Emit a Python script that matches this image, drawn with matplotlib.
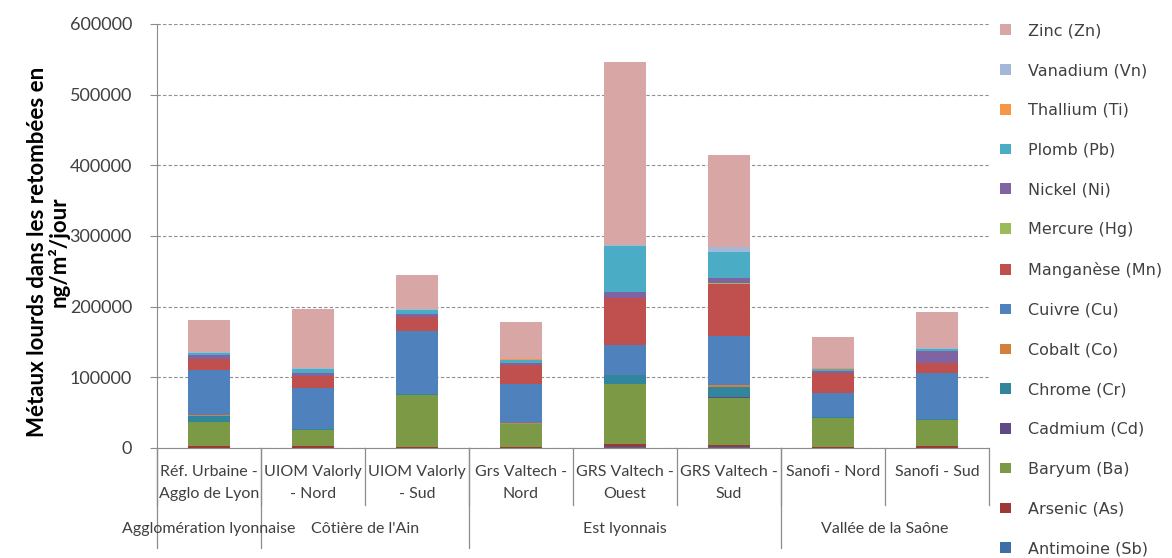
import matplotlib
matplotlib.use("Agg")
import matplotlib.pyplot as plt
from matplotlib.patches import Patch
import numpy as np

# Sites and their geographic groups
sites = [
    "Réf. Urbaine -\nAgglo de Lyon",
    "UIOM Valorly\n- Nord",
    "UIOM Valorly\n- Sud",
    "Grs Valtech -\nNord",
    "GRS Valtech -\nOuest",
    "GRS Valtech -\nSud",
    "Sanofi - Nord",
    "Sanofi - Sud",
]
groups = ["Agglomération lyonnaise", "Côtière de l'Ain", "Est lyonnais", "Vallée de la Saône"]
group_sizes = [1, 2, 3, 2]

# Heavy-metal deposition (ng/m²/jour), bottom of the stack first
antimoine = [500, 500, 300, 300, 2000, 1500, 300, 500]
arsenic = [2000, 2000, 700, 800, 3000, 2500, 1000, 2000]
baryum = [34200, 22500, 73900, 32300, 84900, 67100, 41500, 36600]
cadmium = [300, 200, 200, 200, 500, 400, 200, 300]
chrome = [8200, 1200, 1000, 900, 12700, 15100, 900, 1100]
cobalt = [1000, 500, 500, 400, 900, 1900, 300, 500]
cuivre = [64000, 58300, 89600, 55000, 41500, 70600, 34000, 64500]
manganese = [16000, 16500, 19300, 27300, 66800, 73500, 28200, 15000]
mercure = [200, 100, 100, 100, 200, 200, 100, 100]
nickel = [4500, 3700, 3400, 2300, 8800, 7300, 2300, 16400]
plomb = [3700, 6500, 5900, 5600, 64000, 37200, 3700, 3300]
thallium = [200, 100, 100, 100, 300, 300, 100, 100]
vanadium = [1700, 900, 1800, 700, 2100, 6300, 1000, 1300]
zinc = [44800, 83800, 47500, 52000, 258000, 130400, 43200, 50900]

series = [
    ("Antimoine (Sb)", antimoine, "#3E6EA8"),
    ("Arsenic (As)", arsenic, "#9E3836"),
    ("Baryum (Ba)", baryum, "#7C9A45"),
    ("Cadmium (Cd)", cadmium, "#604A85"),
    ("Chrome (Cr)", chrome, "#31859C"),
    ("Cobalt (Co)", cobalt, "#D2803A"),
    ("Cuivre (Cu)", cuivre, "#4F81BD"),
    ("Manganèse (Mn)", manganese, "#C0504D"),
    ("Mercure (Hg)", mercure, "#9BBB59"),
    ("Nickel (Ni)", nickel, "#8064A2"),
    ("Plomb (Pb)", plomb, "#4BACC6"),
    ("Thallium (Ti)", thallium, "#F79646"),
    ("Vanadium (Vn)", vanadium, "#A3B8D6"),
    ("Zinc (Zn)", zinc, "#D9A6A6"),
]

plt.rcParams["font.family"] = ["Lato", "DejaVu Sans"]
txt_color = "#404040"
line_color = "#8C8C8C"

fig = plt.figure(figsize=(11.72, 5.58), dpi=100)
ax = fig.add_axes([157 / 1172, 1 - 448 / 558, (989 - 157) / 1172, (448 - 24) / 558])

x = np.arange(len(sites))
bottom = np.zeros(len(sites))
for name, vals, col in series:
    ax.bar(x, vals, 0.4, bottom=bottom, color=col, label=name, zorder=3)
    bottom += np.array(vals)

ax.set_xlim(-0.5, len(sites) - 0.5)
ax.set_ylim(0, 600000)
ax.set_yticks(np.arange(0, 600001, 100000))
ax.set_yticklabels([str(v) for v in range(0, 600001, 100000)], fontsize=13, color=txt_color)
ax.tick_params(axis="y", length=5, color=line_color, pad=13)
ax.set_xticks([])
ax.grid(axis="y", linestyle=(0, (3, 2)), color="#8F8F8F", linewidth=0.8, zorder=0)
for s in ["top", "right"]:
    ax.spines[s].set_visible(False)
ax.spines["left"].set_color(line_color)
ax.spines["bottom"].set_color(line_color)

ax.set_ylabel("Métaux lourds dans les retombées en\nng/m²/jour", fontsize=16,
              fontweight="bold", color="#000000", linespacing=1.0)
ax.yaxis.set_label_coords((70 - 157) / 832, (448 - 252) / 424)

# Two-level category axis drawn below the plot
xt = ax.get_xaxis_transform()
ax_h = 448 - 24
for i, lab in enumerate(sites):
    ax.text(i, (448 - 465) / ax_h, lab, transform=xt, ha="center", va="top",
            fontsize=11.5, color=txt_color, linespacing=1.75)
for b in np.arange(len(sites) + 1) - 0.5:
    ax.plot([b, b], [0, (448 - 505) / ax_h], transform=xt, color=line_color,
            linewidth=0.9, clip_on=False)

edges = np.concatenate([[0], np.cumsum(group_sizes)]) - 0.5
for g, lab in enumerate(groups):
    ax.text((edges[g] + edges[g + 1]) / 2, (448 - 529) / ax_h, lab, transform=xt,
            ha="center", va="center", fontsize=11.5, color=txt_color)
for b in edges[:-1]:
    ax.plot([b, b], [0, (448 - 548) / ax_h], transform=xt, color=line_color,
            linewidth=0.9, clip_on=False)

# Legend, top entry is the top of the stack
handles = [Patch(facecolor=c, edgecolor="none") for _, _, c in series][::-1]
labels = [n for n, _, _ in series][::-1]
fig.legend(handles, labels, loc="upper left", bbox_to_anchor=(994 / 1172, 1 - 17 / 558),
           frameon=False, labelspacing=1.55, handlelength=0.65,
           handleheight=0.65, handletextpad=1.1, borderaxespad=0,
           prop={"family": "DejaVu Sans", "size": 11.5}, labelcolor=txt_color)

fig.savefig("out.png", dpi=100)
